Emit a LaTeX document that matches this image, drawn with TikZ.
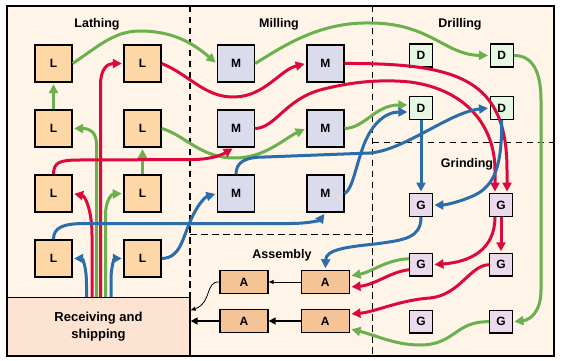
\documentclass[tikz,border=0pt]{standalone}
\usepackage{fontspec}
\setmainfont{Liberation Sans}
\usetikzlibrary{arrows.meta}
\definecolor{BgC}{HTML}{FEF4E8}
\definecolor{LC}{HTML}{FDD8A6}
\definecolor{MC}{HTML}{DADCEC}
\definecolor{DC}{HTML}{E6F8E3}
\definecolor{GC}{HTML}{EADAEC}
\definecolor{AC}{HTML}{F4C496}
\definecolor{RC}{HTML}{FCE3D2}
\definecolor{GreenC}{HTML}{6AB04C}
\definecolor{RedC}{HTML}{DC0A3C}
\definecolor{BlueC}{HTML}{2B6CAB}
\begin{document}
\begin{tikzpicture}[x=1pt,y=-1pt,
  box/.style={draw=black,line width=1.4pt,inner sep=0pt,font=\fontsize{12}{14}\selectfont\bfseries},
  lbox/.style={box,fill=LC,minimum size=37pt},
  mbox/.style={box,fill=MC,minimum size=37pt},
  dbox/.style={box,fill=DC,minimum size=23pt},
  gbox/.style={box,fill=GC,minimum size=22.5pt},
  abox/.style={box,fill=AC,minimum width=48pt,minimum height=23pt},
  region/.style={font=\fontsize{12.5}{14}\selectfont\bfseries},
  sep/.style={dash pattern=on 6.5pt off 4.5pt,line width=1.3pt},
  conn/.style={line width=3pt,-{Triangle[length=9pt,width=9pt]},shorten >=1.5pt},
  gl/.style={conn,draw=GreenC,color=GreenC},
  rl/.style={conn,draw=RedC,color=RedC},
  bl/.style={conn,draw=BlueC,color=BlueC},
  thinarr/.style={line width=0.8pt,-{Triangle[length=5pt,width=4pt]}},
  thickarr/.style={line width=1.6pt,-{Triangle[length=7pt,width=7pt]}}]
\useasboundingbox (0,0) rectangle (566,361);
\fill[white] (0,0) rectangle (566,361);
% frame
\draw[line width=1.4pt,fill=BgC] (7,6) rectangle (554,356);
% separators
\draw[sep] (190,6) -- (190,356);
\draw[sep] (372.5,6) -- (372.5,356);
\draw[sep] (372.5,142.5) -- (554,142.5);
\draw[sep] (190,234.5) -- (372.5,234.5);
% region labels
\node[region] (tLath) at (97,24) {Lathing};
\node[region] (tMill) at (279,24) {Milling};
\node[region] (tDrill) at (460,24) {Drilling};
\node[region] (tGrind) at (467,164) {Grinding};
\node[region] (tAss) at (282,255) {Assembly};
% lathes
\node[lbox] (L11) at (53.5,63.5) {L};
\node[lbox] (L12) at (142.5,63.5) {L};
\node[lbox] (L21) at (53.5,128.5) {L};
\node[lbox] (L22) at (142.5,128.5) {L};
\node[lbox] (L31) at (53.5,193.5) {L};
\node[lbox] (L32) at (142.5,193.5) {L};
\node[lbox] (L41) at (53.5,258.5) {L};
\node[lbox] (L42) at (142.5,258.5) {L};
% mills
\node[mbox] (M11) at (236,63.5) {M};
\node[mbox] (M12) at (325.3,63.5) {M};
\node[mbox] (M21) at (236,128.5) {M};
\node[mbox] (M22) at (325.3,128.5) {M};
\node[mbox] (M31) at (236,193.5) {M};
\node[mbox] (M32) at (325.3,193.5) {M};
% drills
\node[dbox] (D11) at (421,55.5) {D};
\node[dbox] (D12) at (501.7,55.5) {D};
\node[dbox] (D21) at (421,108) {D};
\node[dbox] (D22) at (501.7,108) {D};
% grinders
\node[gbox] (G11) at (421,205) {G};
\node[gbox] (G12) at (501,205) {G};
\node[gbox] (G21) at (421,264.7) {G};
\node[gbox] (G22) at (501,264.7) {G};
\node[gbox] (G31) at (421,321.7) {G};
\node[gbox] (G32) at (501,321.7) {G};
% assembly
\node[abox] (A11) at (244,282) {A};
\node[abox] (A12) at (325.3,282) {A};
\node[abox] (A21) at (244,321) {A};
\node[abox] (A22) at (325.3,321) {A};
% receiving
\node[draw=black,line width=1.4pt,fill=RC,minimum width=183pt,minimum height=58.5pt,inner sep=0pt,
  align=center,font=\fontsize{13}{17}\selectfont\bfseries] (R) at (98.5,326.75) {Receiving and\\shipping};

% ---------- green ----------
\draw[gl] (L11.east) .. controls (100,45) and (115,31) .. (140,31) .. controls (175,31) and (195,45) .. (M11.west);
\draw[gl] (L21.north) -- (L11.south);
\draw[gl] ([xshift=-2pt]R.north) -- (96.5,145) .. controls (96.5,132) and (90,128.5) .. (L21.east);
\draw[gl] (L32.north) -- (L22.south);
\draw[gl] ([xshift=7pt]R.north) -- (105.5,215) .. controls (105.5,200) and (112,194) .. (L32.west);
\draw[gl] (L22.east) .. controls (185,135) and (200,158) .. (235,158) .. controls (265,158) and (285,138) .. (M22.west);
\draw[gl] (M22.east) .. controls (365,128) and (375,105) .. ([yshift=3pt]D21.west);
\draw[gl] (M11.east) .. controls (285,45) and (320,22) .. (370,23) .. controls (430,23) and (445,55) .. (D12.west);
\draw[gl] (D12.east) .. controls (528,55) and (541,65) .. (541,100) -- (541,290) .. controls (541,312) and (530,320) .. (G32.east);
\draw[gl] (G32.west) .. controls (455,321) and (455,345) .. (420,345) .. controls (395,345) and (375,335) .. ([yshift=-8pt]A22.east);
\draw[gl] ([yshift=6pt]G21.west) .. controls (385,260) and (372,272) .. ([yshift=6pt]A12.east);

% ---------- red ----------
\draw[rl] ([xshift=2pt]R.north) -- (100.5,85) .. controls (100.5,68) and (108,63.5) .. (L12.west);
\draw[rl] ([xshift=-6.5pt]R.north) -- (92,235) .. controls (92,210) and (85,196) .. (L31.east);
\draw[rl] (L31.north) .. controls (53.5,162) and (60,160) .. (80,160) -- (195,159.5) .. controls (215,159) and (225,153) .. ([xshift=-2pt]M21.south);
\draw[rl] (L12.east) .. controls (190,75) and (205,98) .. (235,97) .. controls (265,96) and (280,70) .. (M12.west);
\draw[rl] (M12.east) .. controls (460,63) and (507,80) .. (507,170) -- ([xshift=6pt]G12.north);
\draw[rl] (M21.east) .. controls (275,128) and (285,100) .. (320,90) .. controls (350,82) and (380,79) .. (410,82) .. controls (470,90) and (495,130) .. (495,170) -- ([xshift=-6pt]G12.north);
\draw[rl] (G12.south) -- (G22.north);
\draw[rl] ([xshift=-6pt]G12.south) .. controls (495,250) and (470,262) .. (G21.east);
\draw[rl] (G22.west) .. controls (470,265) and (460,295) .. (430,298) .. controls (400,300) and (375,312) .. ([yshift=7pt]A22.east);
\draw[rl] ([yshift=-5pt]G21.west) .. controls (390,272) and (375,285) .. ([yshift=-5pt]A12.east);

% ---------- blue ----------
\draw[bl] ([xshift=-12pt]R.north) -- (86.5,285) .. controls (86.5,265) and (82,258.5) .. (L41.east);
\draw[bl] ([xshift=12.5pt]R.north) -- (111,280) .. controls (111,265) and (115,258.5) .. (L42.west);
\draw[bl] (L41.north) .. controls (53.5,228) and (62,223.5) .. (85,223.5) -- (290,223.5) .. controls (310,223.5) and (320,220) .. (M32.south);
\draw[bl] (L42.east) .. controls (180,258) and (182,240) .. (190,222) .. controls (197,205) and (205,197) .. (M31.west);
\draw[bl] (M31.north) .. controls (236,162) and (245,157) .. (265,157) -- (370,153) .. controls (405,150) and (450,112) .. (D22.west);
\draw[bl] (M32.east) .. controls (352,190) and (355,170) .. (362,150) .. controls (370,125) and (385,112) .. ([yshift=-4pt]D21.west);
\draw[bl] (D21.south) -- (G11.north);
\draw[bl] (D22.south) .. controls (502,165) and (495,185) .. (475,195) .. controls (460,202) and (445,205) .. (G11.east);
\draw[bl] (G11.south) .. controls (421,238) and (405,240) .. (375,244) .. controls (345,247) and (326,250) .. (A12.north);

% ---------- black ----------
\draw[thinarr] (A12.west) -- (A11.east);
\draw[thickarr] (A22.west) -- (A21.east);
\draw[thickarr] (A21.west) -- (A21.west -| R.east);
\draw[thinarr] (A11.west) .. controls (205,281) and (212,303) .. ([yshift=16.5pt]R.east);
\end{tikzpicture}
\end{document}
